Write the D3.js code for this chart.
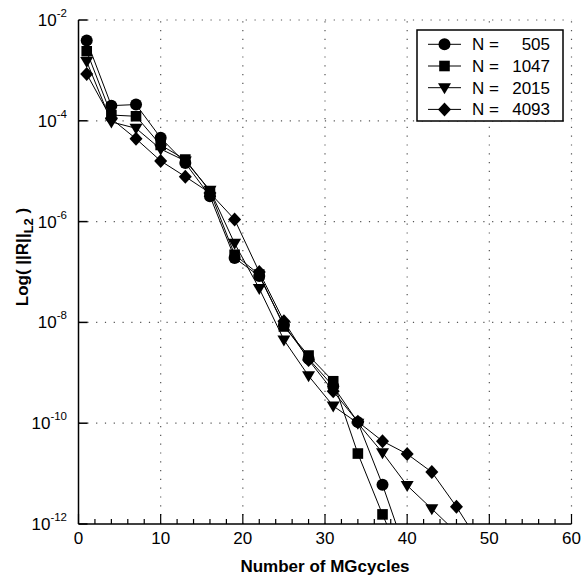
<!DOCTYPE html>
<html>
<head>
<meta charset="utf-8">
<script src="https://cdn.jsdelivr.net/npm/d3@7/dist/d3.min.js"></script>
<style>
  body { margin: 0; background: #fff; }
  text { font-family: "Liberation Sans", Arial, Helvetica, sans-serif; fill: #000; }
</style>
</head>
<body>
<div id="chart"></div>
<script>
// MG cycle counts where the residual was sampled
const cycles = [1, 4, 7, 10, 13, 16, 19, 22, 25, 28, 31, 34, 37, 40, 43, 46, 49];

// residual L2 norm per grid size (last values run below the axis and get clipped)
const resN505 = [3.9e-3, 2.0e-4, 2.1e-4, 4.6e-5, 1.45e-5, 3.2e-6, 1.9e-7, 8.3e-8, 8.9e-9, 1.9e-9, 5.4e-10, 1.05e-10, 6.0e-12, 2.3e-13];
const resN1047 = [2.4e-3, 1.3e-4, 1.23e-4, 3.3e-5, 1.7e-5, 4.0e-6, 2.2e-7, 8.9e-8, 8.3e-9, 2.2e-9, 6.8e-10, 2.5e-11, 1.55e-12, 1.1e-13];
const resN2015 = [1.5e-3, 9.5e-5, 7.1e-5, 2.75e-5, 1.6e-5, 4.2e-6, 3.7e-7, 4.7e-8, 4.5e-9, 8.7e-10, 2.2e-10, 1.0e-10, 2.6e-11, 5.8e-12, 2.0e-12, 6.8e-13];
const resN4093 = [8.5e-4, 1.1e-4, 4.4e-5, 1.6e-5, 7.8e-6, 3.7e-6, 1.1e-6, 1.0e-7, 1.05e-8, 1.8e-9, 4.3e-10, 1.07e-10, 4.4e-11, 2.45e-11, 1.07e-11, 2.2e-12, 3.7e-13];

const seriesNames = ["505", "1047", "2015", "4093"];
const seriesMarkers = ["circle", "square", "triangle", "diamond"];
const seriesValues = [resN505, resN1047, resN2015, resN4093];

const xTicks = [0, 10, 20, 30, 40, 50, 60];
const xMinorTicks = d3.range(0, 61, 2);
const yTickExps = [-2, -4, -6, -8, -10, -12];

const width = 583, height = 576;
const margin = { top: 20, right: 11.5, bottom: 52, left: 78.5 };

const svg = d3.select("#chart").append("svg")
  .attr("width", width)
  .attr("height", height);

const x = d3.scaleLinear().domain([0, 60]).range([margin.left, width - margin.right]);
const y = d3.scaleLog().domain([1e-12, 1e-2]).range([height - margin.bottom, margin.top]);

// grid
const grid = svg.append("g")
  .attr("stroke", "#555")
  .attr("stroke-width", 1.2)
  .attr("stroke-dasharray", "1.2,7.6");
grid.selectAll("line.gx")
  .data(xTicks.slice(1))
  .join("line")
  .attr("x1", d => x(d)).attr("x2", d => x(d))
  .attr("y1", y(1e-12)).attr("y2", y(1e-2));
grid.selectAll("line.gy")
  .data(yTickExps.slice(0, -1))
  .join("line")
  .attr("x1", x(0)).attr("x2", x(60))
  .attr("y1", d => y(Math.pow(10, d))).attr("y2", d => y(Math.pow(10, d)));

// marker shapes
const markerPath = (type) => {
  switch (type) {
    case "circle": return "M6,0A6,6 0 1,1 -6,0A6,6 0 1,1 6,0Z";
    case "square": return "M-5.3,-5.3H5.3V5.3H-5.3Z";
    case "triangle": return "M-6.5,-4.5H6.5L0,6.5Z";
    default: return "M0,-7L6.5,0L0,7L-6.5,0Z";
  }
};

svg.append("clipPath").attr("id", "plotclip")
  .append("rect")
  .attr("x", x(0)).attr("y", y(1e-2) - 10)
  .attr("width", x(60) - x(0)).attr("height", y(1e-12) - y(1e-2) + 10);

const plot = svg.append("g").attr("clip-path", "url(#plotclip)");

const line = d3.line()
  .x(d => x(d[0]))
  .y(d => y(d[1]));

const seriesPoints = seriesValues.map(vals => vals.map((v, i) => [cycles[i], v]));

plot.selectAll("path.series")
  .data(seriesPoints)
  .join("path")
  .attr("class", "series")
  .attr("fill", "none")
  .attr("stroke", "#000")
  .attr("stroke-width", 1)
  .attr("d", line);

// markers: draw largest grid first so N=505 sits on top
[3, 2, 1, 0].forEach(s => {
  plot.append("g")
    .selectAll("path")
    .data(seriesPoints[s])
    .join("path")
    .attr("transform", d => `translate(${x(d[0])},${y(d[1])})`)
    .attr("d", markerPath(seriesMarkers[s]))
    .attr("fill", "#000");
});

// axes lines
svg.append("line")
  .attr("x1", x(0)).attr("x2", x(0))
  .attr("y1", y(1e-2)).attr("y2", y(1e-12))
  .attr("stroke", "#000").attr("stroke-width", 1.5);
svg.append("line")
  .attr("x1", x(0)).attr("x2", x(60))
  .attr("y1", y(1e-12)).attr("y2", y(1e-12))
  .attr("stroke", "#000").attr("stroke-width", 1.5);

// x ticks (inward)
svg.append("g").selectAll("line")
  .data(xMinorTicks)
  .join("line")
  .attr("x1", d => x(d)).attr("x2", d => x(d))
  .attr("y1", y(1e-12))
  .attr("y2", d => y(1e-12) - (d % 10 === 0 ? 10 : 5))
  .attr("stroke", "#000").attr("stroke-width", 1.2);

svg.append("g").selectAll("text")
  .data(xTicks)
  .join("text")
  .attr("x", d => x(d))
  .attr("y", y(1e-12) + 20)
  .attr("text-anchor", "middle")
  .attr("font-size", 17)
  .text(d => d);

// y ticks (inward)
svg.append("g").selectAll("line")
  .data(yTickExps)
  .join("line")
  .attr("x1", x(0)).attr("x2", x(0) + 9)
  .attr("y1", d => y(Math.pow(10, d))).attr("y2", d => y(Math.pow(10, d)))
  .attr("stroke", "#000").attr("stroke-width", 1.5);

const yLab = svg.append("g").selectAll("text")
  .data(yTickExps)
  .join("text")
  .attr("x", 67)
  .attr("y", d => y(Math.pow(10, d)) + 6)
  .attr("text-anchor", "end")
  .attr("font-size", 17);
yLab.append("tspan").text("10");
yLab.append("tspan").attr("font-size", 11.5).attr("dy", -9).text(d => d);

// axis titles
svg.append("text")
  .attr("x", (x(0) + x(60)) / 2)
  .attr("y", 572)
  .attr("text-anchor", "middle")
  .attr("font-size", 17)
  .attr("font-weight", "bold")
  .text("Number of MGcycles");

const yTitle = svg.append("text")
  .attr("transform", "translate(28,257) rotate(-90)")
  .attr("text-anchor", "middle")
  .attr("font-size", 17)
  .attr("font-weight", "bold");
yTitle.append("tspan").text("Log(\u00A0||R||");
yTitle.append("tspan").attr("font-size", 13).attr("dy", 5).text("L2");
yTitle.append("tspan").attr("dy", -5).text("\u00A0)");

// legend
const legend = svg.append("g");
legend.append("rect")
  .attr("x", 417).attr("y", 30)
  .attr("width", 146).attr("height", 91)
  .attr("fill", "#fff")
  .attr("stroke", "#000").attr("stroke-width", 1.5);

seriesNames.forEach((name, i) => {
  const ly = 44.3 + i * 21.7;
  const g = legend.append("g");
  g.append("line")
    .attr("x1", 428).attr("x2", 461)
    .attr("y1", ly).attr("y2", ly)
    .attr("stroke", "#000").attr("stroke-width", 1);
  g.append("path")
    .attr("transform", `translate(444.5,${ly})`)
    .attr("d", markerPath(seriesMarkers[i]))
    .attr("fill", "#000");
  g.append("text")
    .attr("x", 472).attr("y", ly + 6)
    .attr("font-size", 17)
    .text("N =");
  g.append("text")
    .attr("x", 550).attr("y", ly + 6)
    .attr("text-anchor", "end")
    .attr("font-size", 17)
    .text(name);
});
</script>
</body>
</html>
